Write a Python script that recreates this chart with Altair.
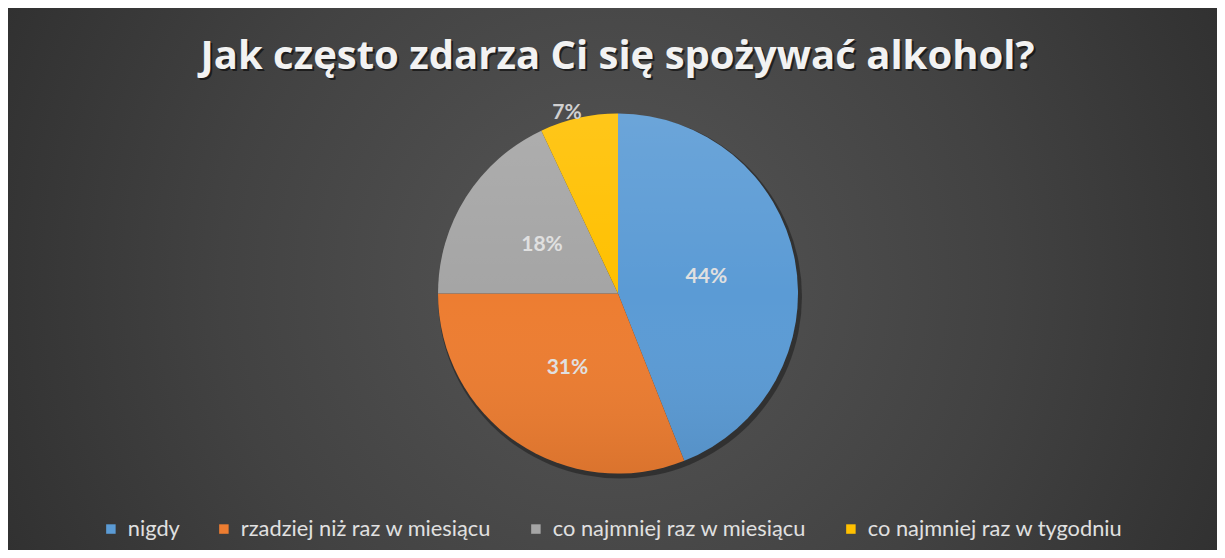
import altair as alt
import pandas as pd

TITLE = "Jak często zdarza Ci się spożywać alkohol?"
categories = ["nigdy", "rzadziej niż raz w miesiącu", "co najmniej raz w miesiącu", "co najmniej raz w tygodniu"]
values = [44, 31, 18, 7]
colors = ["#5B9BD5", "#ED7D31", "#A5A5A5", "#FFC000"]

W, H = 1209, 542
CX, CY = 610, 285.5
R = 180

df = pd.DataFrame({"category": categories, "value": values, "idx": list(range(len(categories)))})

theta_scale = alt.Scale(domain=[0, 100])

base = (
    alt.Chart(df)
    .transform_stack(stack="value", groupby=[], as_=["v0", "v1"], sort=[alt.SortField("idx", order="ascending")])
    .transform_calculate(mid="(datum.v0 + datum.v1) / 2", label="datum.value + '%'")
)

one = pd.DataFrame({"a": [0]})

bg = alt.Chart(one).mark_rect(
    fill=alt.RadialGradient(
        gradient="radial",
        stops=[
            alt.GradientStop(offset=0, color="#565656"),
            alt.GradientStop(offset=0.45, color="#424242"),
            alt.GradientStop(offset=1, color="#242424"),
        ],
        x1=0.5, y1=0.5, r1=0, x2=0.5, y2=0.5, r2=0.72,
    )
).encode(x=alt.value(0), x2=alt.value(W), y=alt.value(0), y2=alt.value(H))

shadow = alt.Chart(one).mark_arc(
    theta=0, theta2=6.2832, outerRadius=R + 2, fill="#000000", opacity=0.35
).encode(x=alt.value(CX + 2), y=alt.value(CY + 3))

pie = base.mark_arc(outerRadius=R).encode(
    x=alt.value(CX),
    y=alt.value(CY),
    theta=alt.Theta("v0:Q", scale=theta_scale),
    theta2="v1:Q",
    color=alt.Color(
        "category:N",
        scale=alt.Scale(domain=categories, range=colors),
        legend=alt.Legend(
            orient="none",
            legendX=92,
            legendY=510,
            direction="horizontal",
            title=None,
            symbolType="square",
            symbolSize=90,
            symbolStrokeWidth=0,
            labelFont="Lato",
            labelFontSize=21.8,
            labelColor="#e0e0e0",
            labelLimit=500,
            labelOffset=6,
            columnPadding=33,
        ),
    ),
)

overlay = alt.Chart(one).mark_arc(
    theta=0, theta2=6.2832, outerRadius=R,
    fill=alt.LinearGradient(
        gradient="linear",
        stops=[
            alt.GradientStop(offset=0, color="rgba(255,255,255,0.10)"),
            alt.GradientStop(offset=0.5, color="rgba(255,255,255,0.0)"),
            alt.GradientStop(offset=1, color="rgba(0,0,0,0.08)"),
        ],
        x1=0, y1=0, x2=0, y2=1,
    ),
).encode(x=alt.value(CX), y=alt.value(CY))

labels_in = base.transform_filter("datum.value >= 10").mark_text(
    radius=90, font="Lato", fontSize=21, fontWeight="bold", color="#e0e0e0"
).encode(
    x=alt.value(CX), y=alt.value(CY),
    theta=alt.Theta("mid:Q", scale=theta_scale),
    text="label:N",
)

labels_out = base.transform_filter("datum.value < 10").mark_text(
    radius=188, dx=-10, dy=3, font="Lato", fontSize=21, fontWeight="bold", color="#d0d0d0"
).encode(
    x=alt.value(CX), y=alt.value(CY),
    theta=alt.Theta("mid:Q", scale=theta_scale),
    text="label:N",
)

tdf = pd.DataFrame({"t": [TITLE]})
title_shadow = alt.Chart(tdf).mark_text(
    font="Open Sans", fontSize=40, fontWeight="bold", color="#000000", opacity=0.55,
    align="center", baseline="alphabetic",
).encode(text="t:N", x=alt.value(611.5), y=alt.value(63))
title = alt.Chart(tdf).mark_text(
    font="Open Sans", fontSize=40, fontWeight="bold", color="#f2f2f2",
    align="center", baseline="alphabetic",
).encode(text="t:N", x=alt.value(609.5), y=alt.value(61))

chart = (
    alt.layer(bg, shadow, pie, overlay, labels_in, labels_out, title_shadow, title)
    .properties(width=W, height=H, padding=0, autosize=alt.AutoSizeParams(type="none"))
    .configure_view(strokeWidth=0)
)

chart.save("out.html", embed_options={"renderer": "svg", "actions": False})
